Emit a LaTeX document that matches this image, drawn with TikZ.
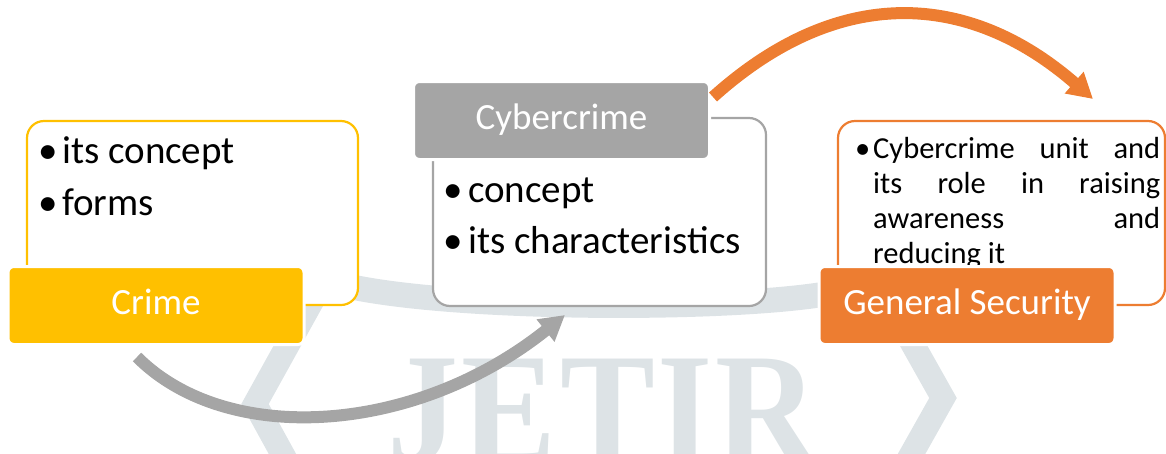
\documentclass[tikz,border=0pt]{standalone}
\usepackage{fontspec}
\usepackage{graphicx}
\setmainfont{Carlito}
\newfontfamily\markfont{Liberation Serif}
\usetikzlibrary{arrows.meta}
\definecolor{crimeyellow}{HTML}{FFC000}
\definecolor{cybergray}{HTML}{A5A5A5}
\definecolor{securityorange}{HTML}{ED7D31}
\definecolor{markgray}{HTML}{DDE3E6}
\begin{document}
\begin{tikzpicture}[x=1pt,y=-1pt,
	textbox/.style={draw=#1,line width=2.2pt,fill=white,rounded corners=17pt},
	labelbox/.style={draw=white,line width=3pt,fill=#1,rounded corners=6pt,minimum width=296pt,minimum height=78pt,text=white,font=\fontsize{37}{44}\selectfont,text height=18pt,text depth=0pt},
	bulletline/.style={anchor=base west,font=\fontsize{39}{52}\selectfont},
	bigarrow/.style={draw=#1,line width=12pt,-{Triangle[length=25pt,width=27pt]}}]
	\tikzstyle{every node}+=[inner sep=0pt]
	\useasboundingbox (0,0) rectangle (1166,453);
	\clip (0,0) rectangle (1166,453);
	\draw [markgray, line width=25pt] (325,280) .. controls (420,312) and (760,312) .. (845,290);
	\draw [markgray, line width=24pt] (332,265) -- (255,404) -- (294,475);
	\draw [markgray, line width=24pt] (898,318) -- (943,398) -- (898,478);
	\node [anchor=base west, text=markgray, font=\markfont\bfseries\fontsize{158}{158}\selectfont] (jetirmark) at (387,462) {\scalebox{0.9}[1]{J\kern4pt E\kern4pt T\kern3pt I\kern3pt R}};
	\node [textbox=crimeyellow, minimum width=331pt, minimum height=184pt] (crimebox) at (192.5,213) {};
	\node [textbox=cybergray, minimum width=333pt, minimum height=188pt] (cyberbox) at (599.5,212) {};
	\node [textbox=securityorange, minimum width=327pt, minimum height=184pt] (securitybox) at (1001.5,213) {};
	\node [bulletline] (crimeA) at (40,163) {\makebox[22pt][l]{\kern-2pt\textbullet}its concept};
	\node [bulletline] (crimeB) at (40,215) {\makebox[22pt][l]{\kern-2pt\textbullet}forms};
	\node [bulletline] (cyberA) at (445,202) {\makebox[23pt][l]{\kern-2pt\textbullet}concept};
	\node [bulletline] (cyberB) at (445,253) {\makebox[23pt][l]{\kern-2pt\textbullet}its characteristics};
	\node [anchor=base west, text width=287pt, align=justify, font=\fontsize{30.5}{35}\selectfont] (securitytext) at (873,158) {\llap{\makebox[17pt][l]{\kern-1pt\textbullet}}Cybercrime unit and\linebreak its role in raising\linebreak awareness and\linebreak reducing it};
	\node [labelbox=crimeyellow] (crime) at (156,305.5) {Crime};
	\node [labelbox=cybergray] (cyber) at (561.5,120.5) {Cybercrime};
	\node [labelbox=securityorange] (security) at (967,305.5) {General Security};
	\coordinate (grayfrom) at (137,357);
	\coordinate (grayto) at (565,315);
	\coordinate (orangefrom) at (713,97);
	\coordinate (orangeto) at (1093,99);
	\draw [bigarrow=cybergray] (grayfrom) .. controls +(90,90) and +(-150,120) .. (grayto);
	\draw [bigarrow=securityorange] (orangefrom) .. controls +(125,-112.5) and +(-125,-108.75) .. (orangeto);
\end{tikzpicture}
\end{document}
